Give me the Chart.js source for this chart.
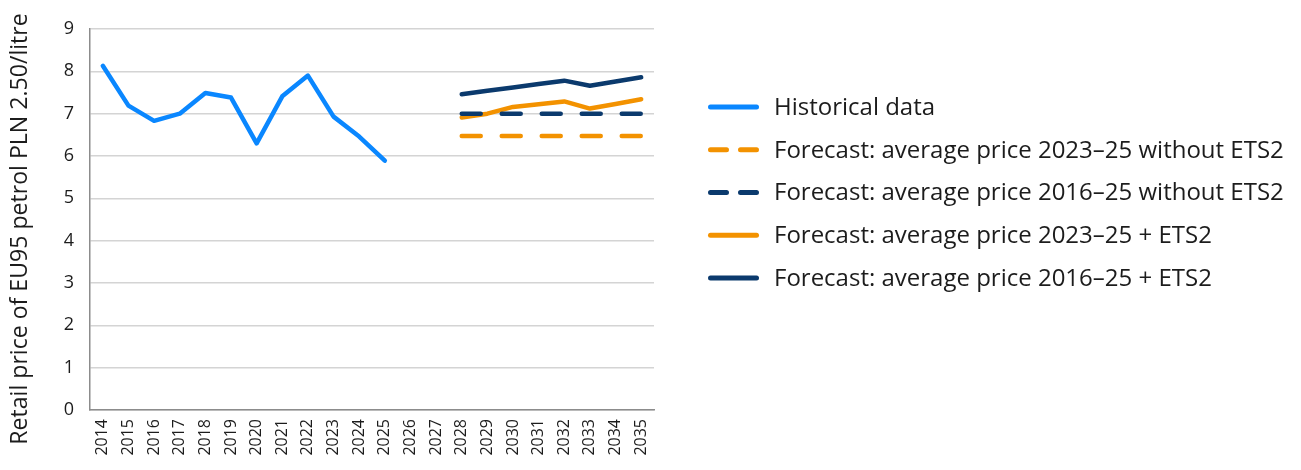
<!DOCTYPE html>
<html>
<head>
<meta charset="utf-8">
<script src="https://cdn.jsdelivr.net/npm/chart.js@4/dist/chart.umd.min.js"></script>
<style>
  html, body { margin: 0; padding: 0; background: #fff; }
  #wrap { width: 1301px; height: 470px; position: relative; }
</style>
</head>
<body>
<div id="wrap"><canvas id="c" width="1301" height="470"></canvas></div>
<script>
// Years on the horizontal axis
const years = ['2014','2015','2016','2017','2018','2019','2020','2021','2022','2023','2024',
               '2025','2026','2027','2028','2029','2030','2031','2032','2033','2034','2035'];

// Retail price of EU95 petrol, PLN 2.50/litre
const historical = [8.13, 7.19, 6.83, 7.00, 7.49, 7.38, 6.30, 7.41, 7.90, 6.93, 6.46, 5.89,
                    null, null, null, null, null, null, null, null, null, null];
const avg2325NoEts = [null, null, null, null, null, null, null, null, null, null, null, null,
                      null, null, 6.47, 6.47, 6.47, 6.47, 6.47, 6.47, 6.47, 6.47];
const avg1625NoEts = [null, null, null, null, null, null, null, null, null, null, null, null,
                      null, null, 7.00, 7.00, 7.00, 7.00, 7.00, 7.00, 7.00, 7.00];
const avg2325Ets = [null, null, null, null, null, null, null, null, null, null, null, null,
                    null, null, 6.91, 7.00, 7.16, 7.22, 7.29, 7.12, 7.23, 7.34];
const avg1625Ets = [null, null, null, null, null, null, null, null, null, null, null, null,
                    null, null, 7.46, 7.54, 7.62, 7.70, 7.78, 7.66, 7.76, 7.86];

const yTicks = [0, 1, 2, 3, 4, 5, 6, 7, 8, 9];

const seriesNames = [
  'Historical data',
  'Forecast: average price 2023\u201325 without ETS2',
  'Forecast: average price 2016\u201325 without ETS2',
  'Forecast: average price 2023\u201325 + ETS2',
  'Forecast: average price 2016\u201325 + ETS2'
];
const yTitle = 'Retail price of EU95 petrol PLN 2.50/litre';

const BLUE = '#0A87FF';
const ORANGE = '#F39200';
const NAVY = '#0B3A6D';
const TEXT = '#1c1c1c';
const FAMILY = '"Open Sans", "Noto Sans", sans-serif';

// Font size that makes a string span a given width
function sizeForWidth(text, width) {
  const ctx = document.createElement('canvas').getContext('2d');
  ctx.font = '100px ' + FAMILY;
  return Math.round(100 * width / ctx.measureText(text).width * 10) / 10;
}

function lineSet(label, data, color, dashed) {
  return {
    label, data,
    borderColor: color, backgroundColor: color,
    borderWidth: 4.5,
    borderDash: dashed ? [19, 21] : [],
    borderCapStyle: 'round',
    borderJoinStyle: 'round',
    pointRadius: 0, pointHoverRadius: 0,
    tension: 0, spanGaps: false, fill: false
  };
}

// Legend to the right of the plot (line sample + label per series)
// and the rotated value-axis title on the far left
const sideText = {
  id: 'sideText',
  afterDraw(chart, args, opts) {
    const ctx = chart.ctx;
    ctx.save();
    ctx.font = opts.fontSize + 'px ' + FAMILY;
    ctx.textBaseline = 'middle';
    ctx.textAlign = 'left';
    chart.data.datasets.forEach((ds, i) => {
      const y = opts.top + i * opts.step;
      ctx.beginPath();
      ctx.lineWidth = 5;
      ctx.lineCap = 'round';
      ctx.strokeStyle = ds.borderColor;
      ctx.setLineDash(ds.borderDash.length ? [16, 14] : []);
      ctx.moveTo(opts.x, y);
      ctx.lineTo(opts.x + opts.sample, y);
      ctx.stroke();
      ctx.setLineDash([]);
      ctx.fillStyle = TEXT;
      ctx.fillText(ds.label, opts.textX, y + 1);
    });

    ctx.font = opts.titleSize + 'px ' + FAMILY;
    ctx.translate(opts.titleX, opts.titleY);
    ctx.rotate(-Math.PI / 2);
    ctx.textAlign = 'center';
    ctx.textBaseline = 'alphabetic';
    ctx.fillText(opts.title, 0, 0);
    ctx.restore();
  }
};

function build() {
  const legendSize = sizeForWidth(seriesNames[1], 509);
  const titleSize = sizeForWidth(yTitle, 432);

  new Chart(document.getElementById('c'), {
    type: 'line',
    data: {
      labels: years,
      datasets: [
        lineSet(seriesNames[0], historical, BLUE, false),
        lineSet(seriesNames[1], avg2325NoEts, ORANGE, true),
        lineSet(seriesNames[2], avg1625NoEts, NAVY, true),
        lineSet(seriesNames[3], avg2325Ets, ORANGE, false),
        lineSet(seriesNames[4], avg1625Ets, NAVY, false)
      ]
    },
    plugins: [sideText],
    options: {
      responsive: false,
      animation: false,
      layout: { padding: { left: 0, right: 647, top: 29, bottom: 0 } },
      plugins: {
        tooltip: { enabled: false },
        legend: { display: false },
        sideText: {
          x: 710.5, sample: 46, textX: 774, top: 107, step: 42.75, fontSize: legendSize,
          title: yTitle, titleSize: titleSize, titleX: 26.5, titleY: 229
        }
      },
      scales: {
        x: {
          offset: true,
          afterFit(axis) { axis.height = 60; },
          grid: { display: false, drawTicks: false },
          border: { display: true, color: '#8c8c8c', width: 1.5 },
          ticks: {
            autoSkip: false, minRotation: 90, maxRotation: 90,
            color: TEXT, padding: 9,
            font: { family: FAMILY, size: 16 }
          }
        },
        y: {
          min: 0, max: 9,
          afterFit(axis) { axis.width = 90; },
          afterBuildTicks(axis) { axis.ticks = yTicks.map(v => ({ value: v })); },
          grid: { color: '#d4d4d4', lineWidth: 1.5, drawTicks: false },
          border: { display: true, color: '#8c8c8c', width: 1.5 },
          ticks: {
            color: TEXT, padding: 16,
            font: { family: FAMILY, size: 18 }
          },
          title: { display: false }
        }
      }
    }
  });
}

if (document.fonts && document.fonts.load) {
  document.fonts.load('20px "Open Sans"').then(build, build);
} else {
  build();
}
</script>
</body>
</html>
